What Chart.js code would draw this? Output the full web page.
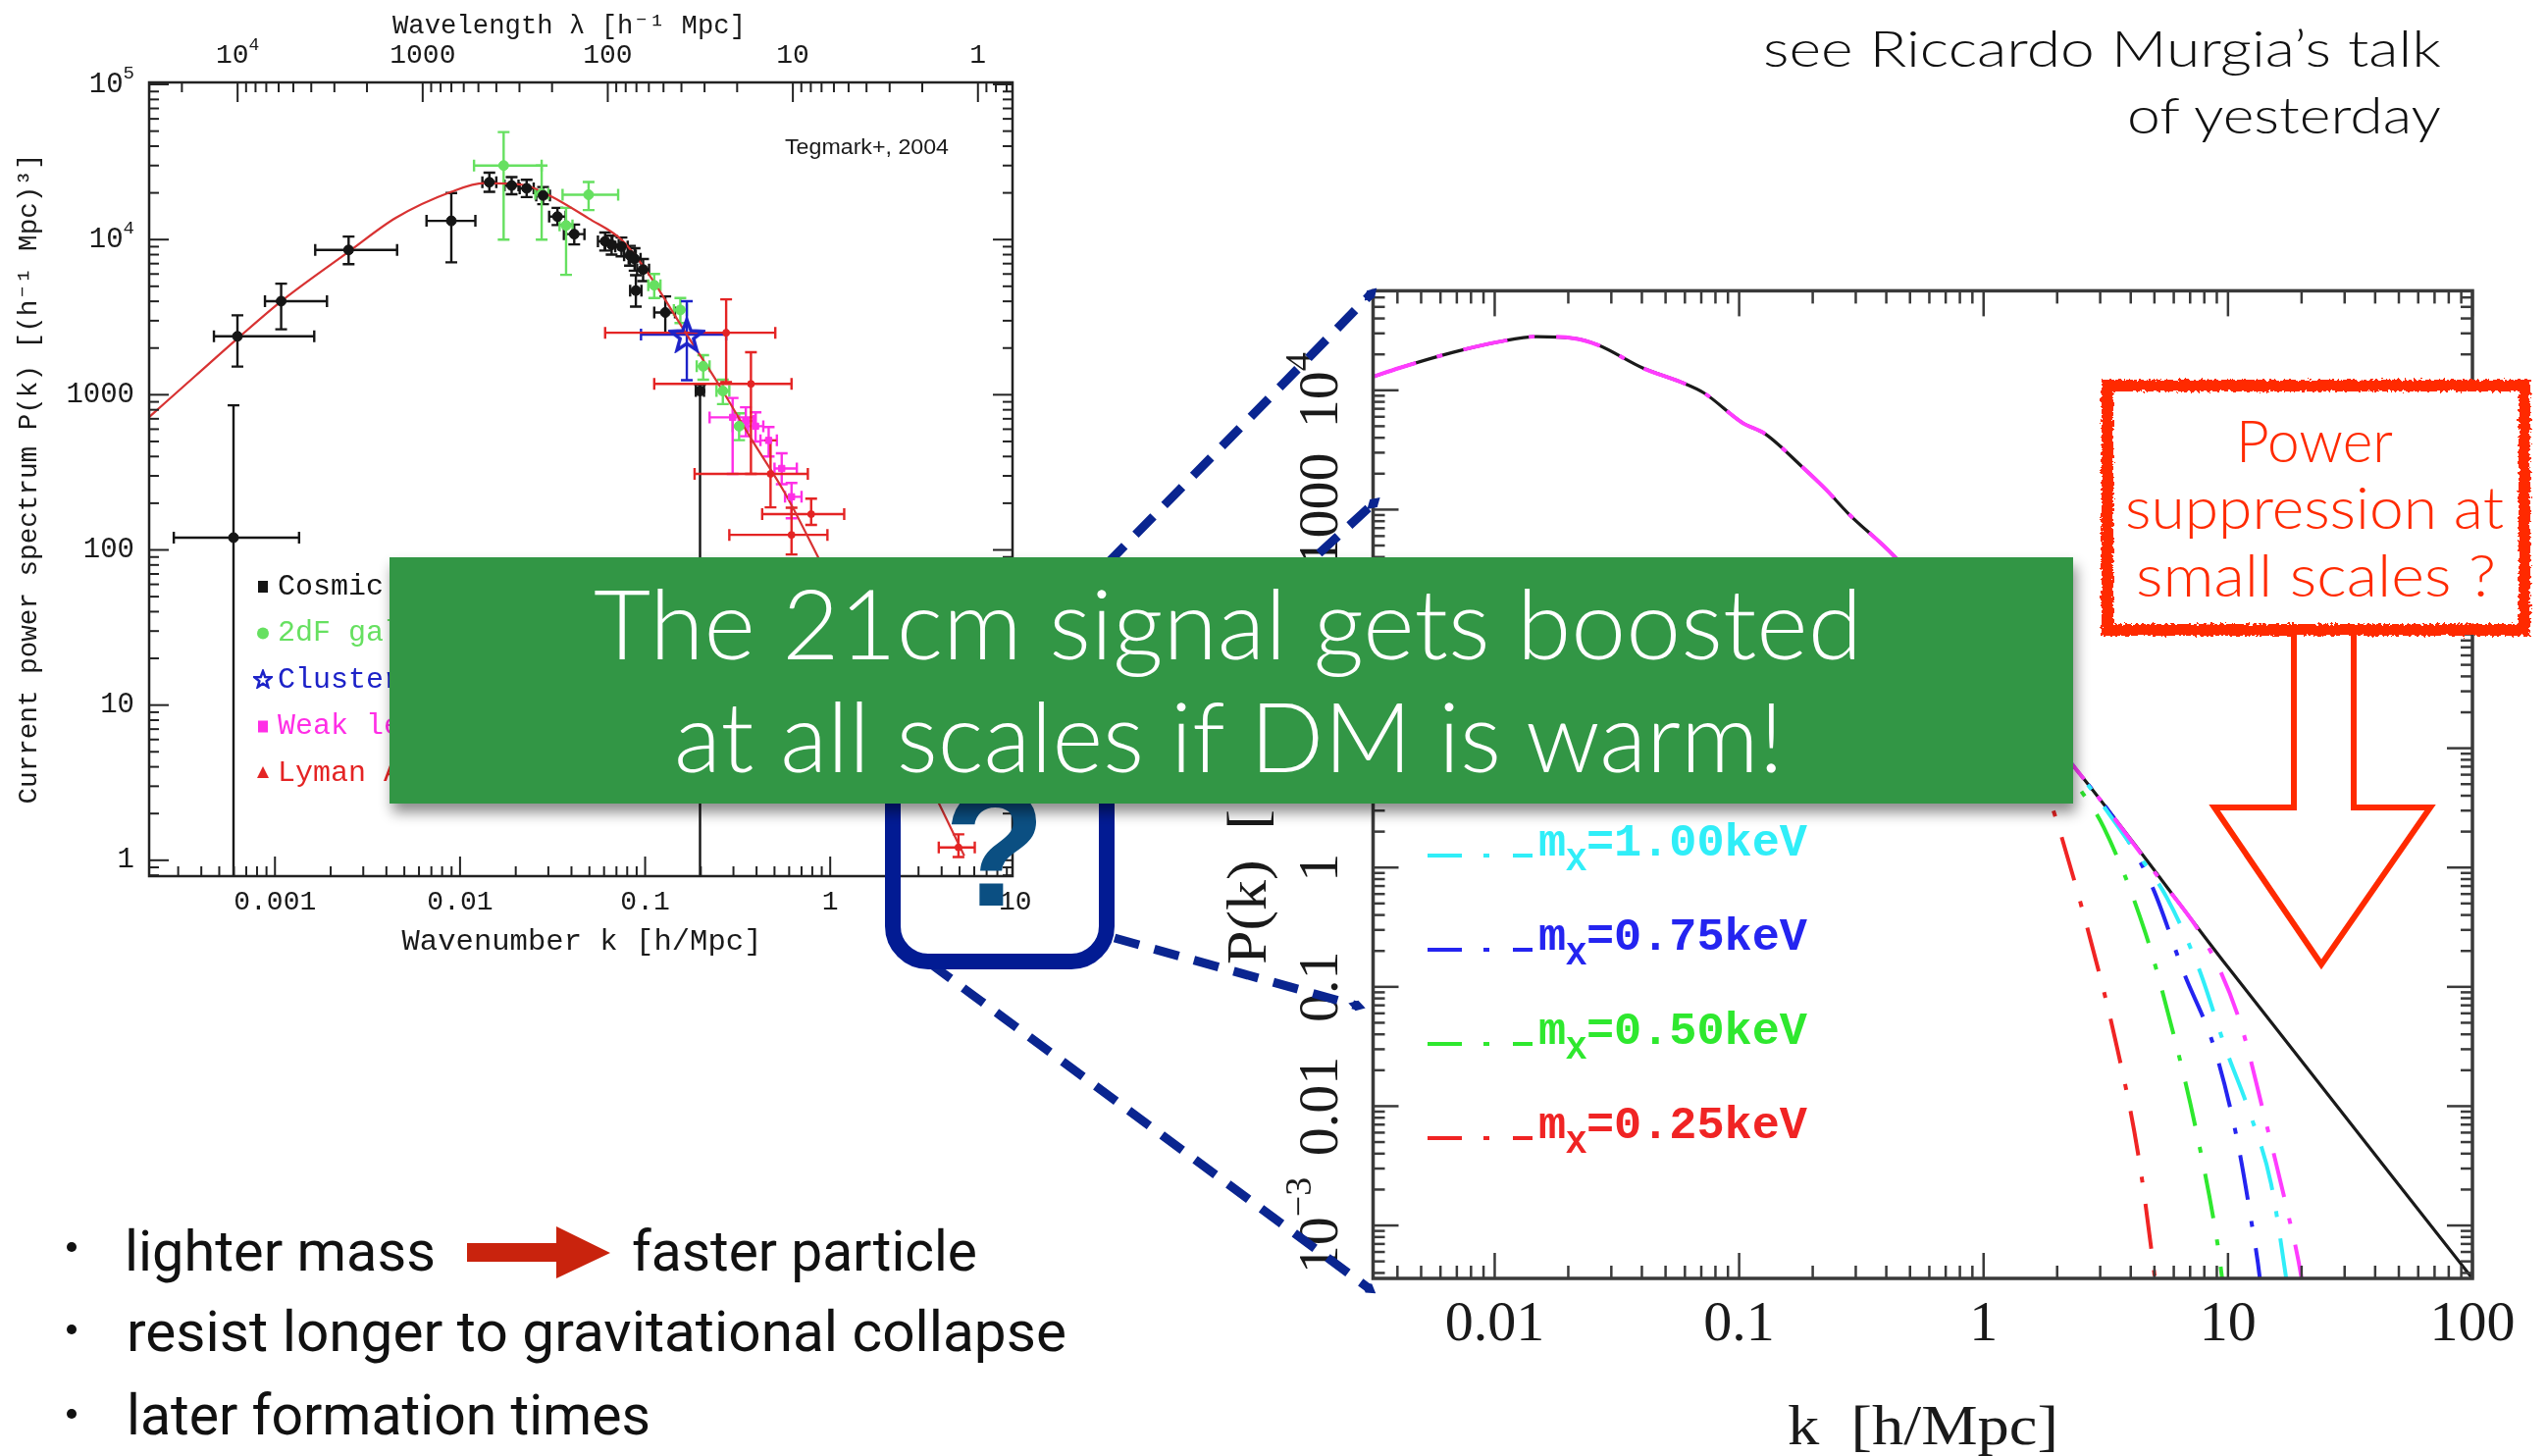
<!DOCTYPE html>
<html lang="en">
<head>
<meta charset="UTF-8">
<meta name="viewport" content="width=device-width, initial-scale=1.0">
<title>Warm dark matter and small-scale power</title>
<script src="https://cdn.jsdelivr.net/npm/chart.js"></script>
<style>
    html, body {
        margin: 0;
        padding: 0;
        background: #ffffff;
    }
    body {
        position: relative;
        width: 2596px;
        height: 1484px;
        overflow: hidden;
    }
    canvas.panel, #overlay {
        position: absolute;
        left: 0;
        top: 0;
    }
    #overlay text {
        font-family: Roboto, "Liberation Sans", sans-serif;
    }
    #overlay text.light {
        font-family: "Lato Light", "Roboto Light", Lato, Roboto, sans-serif;
        font-weight: 300;
    }
</style>
</head>
<body>

<canvas id="tegmarkChart" class="panel" width="2596" height="1484"></canvas>
<canvas id="wdmChart" class="panel" width="2596" height="1484"></canvas>

<svg id="overlay" width="2596" height="1484" viewBox="0 0 2596 1484">
    <defs>
        <filter id="boxShadow" x="-5%" y="-10%" width="112%" height="135%">
            <feDropShadow dx="3" dy="9" stdDeviation="7" flood-color="#000" flood-opacity="0.45"/>
        </filter>
        <filter id="rough" x="-5%" y="-10%" width="110%" height="120%">
            <feTurbulence type="fractalNoise" baseFrequency="0.3" numOctaves="2" seed="4" result="noise"/>
            <feDisplacementMap in="SourceGraphic" in2="noise" scale="7" xChannelSelector="R" yChannelSelector="G"/>
        </filter>
        <marker id="diamond" markerUnits="userSpaceOnUse" viewBox="-9 -6 18 12" markerWidth="18" markerHeight="12" refX="0" refY="0" orient="auto">
            <path d="M-9 0 L0 -5.5 L9 0 L0 5.5 Z" fill="#0a2590"/>
        </marker>
    </defs>

    <!-- zoom lines from the question box to the WDM panel -->
    <g stroke="#0a2590" stroke-width="9" stroke-dasharray="26 16" fill="none" marker-end="url(#diamond)">
        <line x1="1128" y1="575" x2="1397" y2="300"/>
        <line x1="1128" y1="763" x2="1400" y2="513"/>
        <line x1="1136" y1="956" x2="1383" y2="1025"/>
        <line x1="948" y1="982" x2="1395" y2="1313"/>
    </g>

    <rect x="910" y="580" width="218" height="400" rx="36" fill="none" stroke="#021b93" stroke-width="16"/>
    <text x="1014" y="923" text-anchor="middle" font-size="170" font-weight="bold" fill="#0b4f82"
          style="font-family: 'Liberation Sans', Arial, sans-serif;">?</text>

    <!-- headline -->
    <rect x="397" y="568" width="1716" height="251" fill="#309644" filter="url(#boxShadow)"/>
    <text class="light" x="605" y="672" font-size="98" fill="#ffffff" textLength="1293" lengthAdjust="spacingAndGlyphs">The 21cm signal gets boosted</text>
    <text class="light" x="687" y="787" font-size="98" fill="#ffffff" textLength="1131" lengthAdjust="spacingAndGlyphs">at all scales if DM is warm!</text>

    <!-- suppression note -->
    <path d="M2338 640 V823 H2257 L2366 983 L2477 823 H2399 V640" fill="#ffffff" stroke="#ff2a00" stroke-width="6"/>
    <rect x="2148" y="393" width="425" height="249" fill="#ffffff"/>
    <rect x="2148" y="393" width="425" height="249" fill="none" stroke="#ff2a00" stroke-width="12" filter="url(#rough)"/>
    <text class="light" x="2279" y="471" font-size="60" fill="#ff2a00" textLength="160" lengthAdjust="spacingAndGlyphs">Power</text>
    <text class="light" x="2166" y="539" font-size="60" fill="#ff2a00" textLength="386" lengthAdjust="spacingAndGlyphs">suppression at</text>
    <text class="light" x="2177" y="608" font-size="60" fill="#ff2a00" textLength="367" lengthAdjust="spacingAndGlyphs">small scales ?</text>

    <!-- talk reference -->
    <text class="light" x="1797" y="68" font-size="52" fill="#111" textLength="691" lengthAdjust="spacingAndGlyphs">see Riccardo Murgia’s talk</text>
    <text class="light" x="2168" y="136" font-size="52" fill="#111" textLength="320" lengthAdjust="spacingAndGlyphs">of yesterday</text>

    <!-- bullet points -->
    <circle cx="73" cy="1271" r="5" fill="#111"/>
    <circle cx="73" cy="1355" r="5" fill="#111"/>
    <circle cx="73" cy="1441" r="5" fill="#111"/>
    <text x="127" y="1295" font-size="58" fill="#111" textLength="317" lengthAdjust="spacingAndGlyphs">lighter mass</text>
    <polygon points="476,1267 567,1267 567,1250 622,1277 567,1303 567,1286 476,1286" fill="#c9230d"/>
    <text x="644" y="1295" font-size="58" fill="#111" textLength="352" lengthAdjust="spacingAndGlyphs">faster particle</text>
    <text x="129" y="1377" font-size="58" fill="#111" textLength="958" lengthAdjust="spacingAndGlyphs">resist longer to gravitational collapse</text>
    <text x="129" y="1462" font-size="58" fill="#111" textLength="534" lengthAdjust="spacingAndGlyphs">later formation times</text>
</svg>

<script>
// ===== left panel: P(k) measurements compiled by Tegmark et al. (2004) =====
const tegKRange = [2.09e-4, 9.66];
const tegPRange = [0.79, 1.03e5];

// linear-theory curve
const theoryK = [2.09e-4, 3.76e-4, 6.27e-4, 1.08e-3, 2.50e-3, 4.5e-3, 8.97e-3, 0.0135, 0.022, 0.0304, 0.0495, 0.0745, 0.099, 0.121, 0.168, 0.252, 0.379, 0.57, 0.822, 2.0, 5.3];
const theoryP = [718, 1340, 2300, 4000, 8340, 13800, 20300, 23100, 22500, 19250, 13700, 10000, 6590, 4580, 2440, 1145, 508, 232, 100, 11.7, 1.07];

// CMB + galaxy points (black)
const cmbK   = [5.97e-4, 6.27e-4, 1.08e-3, 2.50e-3, 8.97e-3, 0.0144, 0.0190, 0.0229, 0.0281, 0.0336, 0.0414, 0.0608, 0.0659, 0.0745, 0.0828, 0.0877, 0.0975, 0.0891, 0.1285, 0.198];
const cmbP   = [120, 2380, 4010, 8570, 13200, 23400, 22300, 21400, 19250, 14060, 10840, 9750, 9250, 9010, 7910, 7510, 6410, 4690, 3390, 1057];
const cmbKLo = [2.84e-4, 4.68e-4, 8.83e-4, 1.65e-3, 6.59e-3, 0.0132, 0.0174, 0.0210, 0.0258, 0.0303, 0.0364, 0.0556, 0.0605, 0.0690, 0.0770, 0.0815, 0.0905, 0.0830, 0.112, 0.188];
const cmbKHi = [1.35e-3, 1.63e-3, 1.91e-3, 4.57e-3, 0.0121, 0.0157, 0.0207, 0.0250, 0.0306, 0.0372, 0.0470, 0.0665, 0.0720, 0.0805, 0.0890, 0.0945, 0.105, 0.0955, 0.145, 0.208];
const cmbPLo = [0.7, 1520, 2640, 6950, 7130, 20300, 19600, 18800, 16900, 12400, 9300, 8500, 8000, 7800, 6800, 6300, 5400, 3700, 2500, 0.7];
const cmbPHi = [855, 3250, 5200, 10450, 19950, 27000, 25300, 24300, 21800, 16000, 12500, 11100, 10600, 10300, 9100, 8800, 7500, 5900, 4300, 1160];

// 2dF galaxies (green)
const galK   = [0.0172, 0.0276, 0.0374, 0.0495, 0.112, 0.155, 0.206, 0.263, 0.322];
const galP   = [30000, 19760, 12340, 19450, 5080, 3520, 1525, 1057, 627];
const galKLo = [0.0119, 0.0255, 0.0345, 0.0358, 0.104, 0.143, 0.19, 0.243, 0.297];
const galKHi = [0.0276, 0.0300, 0.0405, 0.0715, 0.121, 0.168, 0.223, 0.285, 0.35];
const galPLo = [10000, 10000, 5930, 15500, 4200, 2900, 1250, 870, 510];
const galPHi = [49300, 30000, 16000, 23500, 6000, 4200, 1800, 1250, 760];

// cluster abundance (blue star)
const cluK = [0.168], cluP = [2440], cluKLo = [0.095], cluKHi = [0.274], cluPLo = [1240], cluPHi = [4010];

// weak lensing (magenta)
const wlK   = [0.297, 0.350, 0.395, 0.465, 0.547, 0.618];
const wlP   = [715, 678, 627, 508, 335, 220];
const wlKLo = [0.223, 0.320, 0.360, 0.42, 0.50, 0.57];
const wlKHi = [0.395, 0.385, 0.435, 0.515, 0.66, 0.70];
const wlPLo = [309, 540, 500, 400, 265, 160];
const wlPHi = [953, 830, 770, 620, 420, 270];

// Lyman alpha forest (red)
const lyaK   = [0.274, 0.373, 0.476, 0.789, 0.618, 4.93];
const lyaP   = [2510, 1175, 309, 170, 125, 1.21];
const lyaKLo = [0.0608, 0.112, 0.185, 0.429, 0.285, 3.86];
const lyaKHi = [0.505, 0.618, 0.757, 1.19, 0.966, 6.04];
const lyaPLo = [1206, 309, 188, 145, 93.5, 1.05];
const lyaPHi = [4120, 1880, 508, 214, 187, 1.47];

const tegBottomTicks  = [0.001, 0.01, 0.1, 1, 10];
const tegBottomLabels = ['0.001', '0.01', '0.1', '1', '10'];
const tegTopLambda    = [1e4, 1000, 100, 10, 1];
const tegTopLabels    = ['10^4', '1000', '100', '10', '1'];
const tegLeftTicks    = [1, 10, 100, 1000, 1e4, 1e5];
const tegLeftLabels   = ['1', '10', '100', '1000', '10^4', '10^5'];

// ===== right panel: CDM against thermal WDM =====
const wdmKRange = [3.18e-3, 100];
const wdmPRange = [3.6e-4, 6.82e4];

const cdmK = [0.00318, 0.00408, 0.00675, 0.0104, 0.0148, 0.0212, 0.0264, 0.0405, 0.0579, 0.0718, 0.103, 0.128, 0.182, 0.226, 0.280, 0.430, 1.0, 2.32, 10, 100];
const cdmP = [13000, 15400, 20800, 25500, 28200, 27200, 24000, 15300, 11700, 9500, 5350, 4300, 2260, 1480, 925, 409, 52.5, 7.18, 0.146, 0.00036];

const wdmMagK = [0.00318, 0.00408, 0.00675, 0.0104, 0.0148, 0.0212, 0.0264, 0.0405, 0.0579, 0.0718, 0.103, 0.128, 0.182, 0.226, 0.280, 0.430, 1.0, 2.32, 5.0, 8.45, 11.3, 14.0, 17.3, 20.0, 22.4];
const wdmMagP = [13000, 15400, 20800, 25500, 28200, 27200, 24000, 15300, 11700, 9500, 5350, 4300, 2260, 1480, 925, 409, 52.5, 7.18, 0.92, 0.202, 0.0479, 0.0087, 0.00146, 0.00036, 0.000063];

const wdm100K = [1.0, 2.32, 3.98, 5.62, 7.59, 9.75, 12.5, 15.0, 17.3, 19.5];
const wdm100P = [52.5, 7.18, 1.58, 0.56, 0.143, 0.031, 0.0079, 0.00224, 0.00036, 0.000063];

const wdm075K = [1.0, 2.32, 3.71, 4.94, 6.59, 8.77, 10.9, 12.5, 13.5, 14.6];
const wdm075P = [52.5, 7.1, 2.0, 0.664, 0.132, 0.0312, 0.00524, 0.00104, 0.00036, 0.000063];

const wdm050K = [1.0, 2.41, 3.10, 4.59, 5.92, 7.35, 9.08, 9.46, 10.5];
const wdm050P = [51, 4.9, 2.18, 0.284, 0.0438, 0.00676, 0.000682, 0.00036, 0.000063];

const wdm025K = [1.0, 1.41, 1.91, 2.09, 2.69, 3.45, 4.28, 5.01, 5.5];
const wdm025P = [48, 15.8, 3.2, 1.78, 0.284, 0.0369, 0.00407, 0.000375, 0.000063];

const wdmMasses = ['1.00', '0.75', '0.50', '0.25'];

const wdmBottomTicks  = [0.01, 0.1, 1, 10, 100];
const wdmBottomLabels = ['0.01', '0.1', '1', '10', '100'];
const wdmLeftTicks    = [1e-3, 0.01, 0.1, 1, 10, 100, 1000, 1e4];
const wdmLeftLabels   = ['10^-3', '0.01', '0.1', '1', '10', '100', '1000', '10^4'];

const TWO_PI = 2 * Math.PI;
const MONO = '"Liberation Mono", "DejaVu Sans Mono", monospace';
const SERIF = '"Liberation Serif", "DejaVu Serif", serif';

const zip = (xs, ys) => xs.map((x, i) => ({ x: x, y: ys[i] }));

// every tick of a log axis, majors on the decades
function decadeTicks(min, max) {
    const out = [];
    for (let e = Math.floor(Math.log10(min)); e <= Math.ceil(Math.log10(max)); e++) {
        for (let m = 1; m <= 9; m++) {
            const v = m * Math.pow(10, e);
            if (v >= min * 0.999 && v <= max * 1.001) out.push({ v: v, major: m === 1 });
        }
    }
    return out;
}

function seg(ctx, x0, y0, x1, y1) {
    ctx.beginPath();
    ctx.moveTo(x0, y0);
    ctx.lineTo(x1, y1);
    ctx.stroke();
}

// "10^4" style labels with a raised exponent
function powerLabel(ctx, label, x, y, size, family, align) {
    const parts = label.split('^');
    const base = parts[0];
    const exp = parts[1] ? parts[1].replace('-', '\u2212') : '';
    ctx.font = size + 'px ' + family;
    const wb = ctx.measureText(base).width;
    let we = 0;
    if (exp) {
        ctx.font = Math.round(size * 0.66) + 'px ' + family;
        we = ctx.measureText(exp).width;
    }
    const total = wb + we;
    const x0 = align === 'right' ? x - total : align === 'center' ? x - total / 2 : x;
    ctx.textAlign = 'left';
    ctx.textBaseline = 'middle';
    ctx.font = size + 'px ' + family;
    ctx.fillText(base, x0, y);
    if (exp) {
        ctx.font = Math.round(size * 0.66) + 'px ' + family;
        ctx.fillText(exp, x0 + wb, y - size * 0.38);
    }
}

// draw text squeezed or stretched to a given width
function fitText(ctx, text, x, y, width, align) {
    const w = ctx.measureText(text).width;
    ctx.save();
    ctx.translate(x, y);
    ctx.scale(width / w, 1);
    ctx.textAlign = align || 'left';
    ctx.fillText(text, 0, 0);
    ctx.restore();
}

function starImage(size, color, lw) {
    const c = document.createElement('canvas');
    c.width = c.height = size;
    const g = c.getContext('2d');
    g.strokeStyle = color;
    g.lineWidth = lw;
    g.beginPath();
    for (let i = 0; i < 10; i++) {
        const r = i % 2 ? size * 0.19 : size * 0.45;
        const t = -Math.PI / 2 + i * Math.PI / 5;
        const px = size / 2 + r * Math.cos(t);
        const py = size / 2 + r * Math.sin(t) + size * 0.05;
        if (i) g.lineTo(px, py); else g.moveTo(px, py);
    }
    g.closePath();
    g.stroke();
    return c;
}

function drawErrorBars(chart) {
    const { ctx, chartArea: a, scales: { x, y } } = chart;
    ctx.save();
    ctx.beginPath();
    ctx.rect(a.left, a.top, a.right - a.left, a.bottom - a.top);
    ctx.clip();
    chart.data.datasets.forEach(ds => {
        if (!ds.errors) return;
        const e = ds.errors;
        ctx.strokeStyle = ds.borderColor;
        ctx.lineWidth = 2.4;
        ds.data.forEach((p, i) => {
            const px = x.getPixelForValue(p.x);
            const py = y.getPixelForValue(p.y);
            const x0 = x.getPixelForValue(e.kLo[i]);
            const x1 = x.getPixelForValue(e.kHi[i]);
            const y0 = y.getPixelForValue(e.pLo[i]);
            const y1 = y.getPixelForValue(e.pHi[i]);
            ctx.beginPath();
            ctx.moveTo(x0, py); ctx.lineTo(x1, py);
            ctx.moveTo(px, y0); ctx.lineTo(px, y1);
            ctx.moveTo(x0, py - 6); ctx.lineTo(x0, py + 6);
            ctx.moveTo(x1, py - 6); ctx.lineTo(x1, py + 6);
            ctx.moveTo(px - 6, y0); ctx.lineTo(px + 6, y0);
            ctx.moveTo(px - 6, y1); ctx.lineTo(px + 6, y1);
            ctx.stroke();
        });
    });
    ctx.restore();
}

function legendMarker(ctx, shape, x, y, color) {
    ctx.fillStyle = color;
    if (shape === 'square') {
        ctx.fillRect(x - 5, y - 6, 10, 12);
    } else if (shape === 'circle') {
        ctx.beginPath(); ctx.arc(x, y, 6, 0, TWO_PI); ctx.fill();
    } else if (shape === 'star') {
        ctx.drawImage(starImage(20, color, 2.5), x - 10, y - 11);
    } else if (shape === 'triangle') {
        ctx.beginPath(); ctx.moveTo(x, y - 7); ctx.lineTo(x + 6, y + 5); ctx.lineTo(x - 6, y + 5); ctx.closePath(); ctx.fill();
    }
}

// axes, ticks, labels and legend for the measurement panel
const tegmarkAxes = {
    id: 'tegmarkAxes',
    beforeDatasetsDraw(chart) {
        drawErrorBars(chart);
    },
    afterDraw(chart) {
        const { ctx, chartArea: a, scales: { x, y } } = chart;
        ctx.save();
        ctx.strokeStyle = '#222';
        ctx.lineWidth = 2.5;
        ctx.strokeRect(a.left, a.top, a.right - a.left, a.bottom - a.top);
        ctx.lineWidth = 2;
        decadeTicks(x.min, x.max).forEach(t => {
            const px = x.getPixelForValue(t.v);
            seg(ctx, px, a.bottom, px, a.bottom - (t.major ? 20 : 10));
        });
        decadeTicks(TWO_PI / x.max, TWO_PI / x.min).forEach(t => {
            const px = x.getPixelForValue(TWO_PI / t.v);
            seg(ctx, px, a.top, px, a.top + (t.major ? 20 : 10));
        });
        decadeTicks(y.min, y.max).forEach(t => {
            const py = y.getPixelForValue(t.v);
            const len = t.major ? 20 : 10;
            seg(ctx, a.left, py, a.left + len, py);
            seg(ctx, a.right, py, a.right - len, py);
        });

        ctx.fillStyle = '#1a1a1a';
        tegBottomTicks.forEach((v, i) => powerLabel(ctx, tegBottomLabels[i], x.getPixelForValue(v), 920, 28, MONO, 'center'));
        tegTopLambda.forEach((v, i) => powerLabel(ctx, tegTopLabels[i], x.getPixelForValue(TWO_PI / v), 57, 28, MONO, 'center'));
        tegLeftTicks.forEach((v, i) => powerLabel(ctx, tegLeftLabels[i], 137, y.getPixelForValue(v), 29, MONO, 'right'));

        ctx.textBaseline = 'middle';
        ctx.font = '30px ' + MONO;
        fitText(ctx, 'Wavenumber k [h/Mpc]', 593, 960, 367, 'center');
        ctx.font = '28px ' + MONO;
        fitText(ctx, 'Wavelength \u03bb [h\u207b\u00b9 Mpc]', 580, 27, 360, 'center');
        ctx.save();
        ctx.translate(30, 488);
        ctx.rotate(-Math.PI / 2);
        ctx.font = '28px ' + MONO;
        fitText(ctx, 'Current power spectrum P(k) [(h\u207b\u00b9 Mpc)\u00b3]', 0, 0, 663, 'center');
        ctx.restore();

        ctx.font = '22px "Liberation Sans", Arial, sans-serif';
        fitText(ctx, 'Tegmark+, 2004', 800, 151, 167, 'left');

        // legend
        let row = 0;
        chart.data.datasets.forEach(ds => {
            if (!ds.marker) return;
            const ly = 598 + row * 47.5;
            legendMarker(ctx, ds.marker, 268, ly, ds.borderColor);
            ctx.fillStyle = ds.borderColor;
            ctx.font = '30px ' + MONO;
            ctx.textAlign = 'left';
            ctx.textBaseline = 'middle';
            ctx.fillText(ds.label, 283, ly);
            row++;
        });
        ctx.restore();
    }
};

// axes, ticks, labels and legend for the CDM / WDM panel
const wdmAxes = {
    id: 'wdmAxes',
    afterDraw(chart) {
        const { ctx, chartArea: a, scales: { x, y } } = chart;
        ctx.save();
        ctx.strokeStyle = '#3a3a3a';
        ctx.lineWidth = 3.5;
        ctx.strokeRect(a.left, a.top, a.right - a.left, a.bottom - a.top);
        ctx.lineWidth = 2.5;
        decadeTicks(x.min, x.max).forEach(t => {
            const px = x.getPixelForValue(t.v);
            const len = t.major ? 26 : 13;
            seg(ctx, px, a.bottom, px, a.bottom - len);
            seg(ctx, px, a.top, px, a.top + len);
        });
        decadeTicks(y.min, y.max).forEach(t => {
            const py = y.getPixelForValue(t.v);
            const len = t.major ? 26 : 12;
            seg(ctx, a.left, py, a.left + len, py);
            seg(ctx, a.right, py, a.right - len, py);
        });

        ctx.fillStyle = '#1a1a1a';
        wdmBottomTicks.forEach((v, i) => powerLabel(ctx, wdmBottomLabels[i], x.getPixelForValue(v), 1351, 58, SERIF, 'center'));
        wdmLeftTicks.forEach((v, i) => {
            ctx.save();
            ctx.translate(1348, y.getPixelForValue(v));
            ctx.rotate(-Math.PI / 2);
            powerLabel(ctx, wdmLeftLabels[i], 0, 0, 58, SERIF, 'center');
            ctx.restore();
        });

        ctx.textBaseline = 'alphabetic';
        ctx.font = '58px ' + SERIF;
        fitText(ctx, 'k  [h/Mpc]', 1960, 1472, 276, 'center');
        // rotated P(k) title, reading upwards from y = 983
        ctx.save();
        ctx.translate(1290, 983);
        ctx.rotate(-Math.PI / 2);
        ctx.font = '58px ' + SERIF;
        fitText(ctx, 'P(k)  [', 0, 0, 158, 'left');
        fitText(ctx, '(h\u207b\u00b9Mpc)\u00b3]', 162, 0, 230, 'left');
        ctx.restore();

        // legend: sample line plus m_X label
        chart.data.datasets.forEach(ds => {
            if (ds.legendRow === undefined) return;
            const base = 872 + ds.legendRow * 96;
            ctx.save();
            ctx.strokeStyle = ds.borderColor;
            ctx.lineWidth = ds.borderWidth;
            ctx.setLineDash(legendDash);
            seg(ctx, 1455, base, 1562, base);
            ctx.restore();

            const rest = '=' + ds.mass + 'keV';
            const big = 'bold 46px ' + MONO, small = 'bold 34px ' + MONO;
            ctx.font = big;
            const w1 = ctx.measureText('m').width, w3 = ctx.measureText(rest).width;
            ctx.font = small;
            const w2 = ctx.measureText('X').width;
            ctx.save();
            ctx.translate(1568, base);
            ctx.scale(274 / (w1 + w2 + w3), 1);
            ctx.fillStyle = ds.borderColor;
            ctx.textAlign = 'left';
            ctx.textBaseline = 'alphabetic';
            ctx.font = big;
            ctx.fillText('m', 0, 0);
            ctx.font = small;
            ctx.fillText('X', w1, 15);
            ctx.font = big;
            ctx.fillText(rest, w1 + w2, 0);
            ctx.restore();
        });
        ctx.restore();
    }
};

const tegDatasets = [
    {
        label: 'Cosmic Microwave Background', marker: 'square',
        data: zip(cmbK, cmbP),
        errors: { kLo: cmbKLo, kHi: cmbKHi, pLo: cmbPLo, pHi: cmbPHi },
        pointStyle: 'circle', pointRadius: 5, backgroundColor: '#151515', borderColor: '#151515'
    },
    {
        label: '2dF galaxies', marker: 'circle',
        data: zip(galK, galP),
        errors: { kLo: galKLo, kHi: galKHi, pLo: galPLo, pHi: galPHi },
        pointStyle: 'circle', pointRadius: 5, backgroundColor: '#66e060', borderColor: '#66e060'
    },
    {
        label: 'Cluster abundance', marker: 'star',
        data: zip(cluK, cluP),
        errors: { kLo: cluKLo, kHi: cluKHi, pLo: cluPLo, pHi: cluPHi },
        pointStyle: starImage(38, '#1c22c8', 3.5), backgroundColor: '#1c22c8', borderColor: '#1c22c8'
    },
    {
        label: 'Weak lensing', marker: 'square',
        data: zip(wlK, wlP),
        errors: { kLo: wlKLo, kHi: wlKHi, pLo: wlPLo, pHi: wlPHi },
        pointStyle: 'rect', pointRadius: 4.5, backgroundColor: '#ff2ee6', borderColor: '#ff2ee6'
    },
    {
        label: 'Lyman Alpha Forest', marker: 'triangle',
        data: zip(lyaK, lyaP),
        errors: { kLo: lyaKLo, kHi: lyaKHi, pLo: lyaPLo, pHi: lyaPHi },
        pointStyle: 'circle', pointRadius: 3.5, backgroundColor: '#e42424', borderColor: '#e42424'
    },
    {
        label: 'LCDM linear theory',
        data: zip(theoryK, theoryP),
        showLine: true, pointRadius: 0, borderColor: '#d83232', borderWidth: 2.2,
        cubicInterpolationMode: 'monotone', order: 10
    }
];

new Chart(document.getElementById('tegmarkChart'), {
    type: 'scatter',
    data: { datasets: tegDatasets },
    options: {
        responsive: false,
        animation: false,
        events: [],
        layout: { padding: { left: 152, top: 84, right: 2596 - 1032, bottom: 1484 - 893 } },
        scales: {
            x: { type: 'logarithmic', min: tegKRange[0], max: tegKRange[1], display: false },
            y: { type: 'logarithmic', min: tegPRange[0], max: tegPRange[1], display: false }
        },
        plugins: { legend: { display: false }, tooltip: { enabled: false } }
    },
    plugins: [tegmarkAxes]
});

const dashDot = [46, 22, 6, 22];
const legendDash = [35, 22, 6, 24];
const wdmCurve = (k, p, color, extra) => Object.assign({
    data: zip(k, p), showLine: true, pointRadius: 0, borderColor: color, borderWidth: 4,
    borderDash: dashDot, cubicInterpolationMode: 'monotone'
}, extra);

new Chart(document.getElementById('wdmChart'), {
    type: 'scatter',
    data: {
        datasets: [
            wdmCurve(cdmK, cdmP, '#1a1a1a', { label: 'CDM', borderDash: [], borderWidth: 3.2, order: 10 }),
            wdmCurve(wdmMagK, wdmMagP, '#ff3cff', { label: 'WDM', order: 1 }),
            wdmCurve(wdm100K, wdm100P, '#30eef8', { label: 'm_X=' + wdmMasses[0], mass: wdmMasses[0], legendRow: 0, order: 2 }),
            wdmCurve(wdm075K, wdm075P, '#2424f0', { label: 'm_X=' + wdmMasses[1], mass: wdmMasses[1], legendRow: 1, order: 3 }),
            wdmCurve(wdm050K, wdm050P, '#2ee82e', { label: 'm_X=' + wdmMasses[2], mass: wdmMasses[2], legendRow: 2, order: 4 }),
            wdmCurve(wdm025K, wdm025P, '#f02424', { label: 'm_X=' + wdmMasses[3], mass: wdmMasses[3], legendRow: 3, order: 5 })
        ]
    },
    options: {
        responsive: false,
        animation: false,
        events: [],
        layout: { padding: { left: 1399.5, top: 296.4, right: 2596 - 2520, bottom: 1484 - 1303 } },
        scales: {
            x: { type: 'logarithmic', min: wdmKRange[0], max: wdmKRange[1], display: false },
            y: { type: 'logarithmic', min: wdmPRange[0], max: wdmPRange[1], display: false }
        },
        plugins: { legend: { display: false }, tooltip: { enabled: false } }
    },
    plugins: [wdmAxes]
});
</script>

</body>
</html>
